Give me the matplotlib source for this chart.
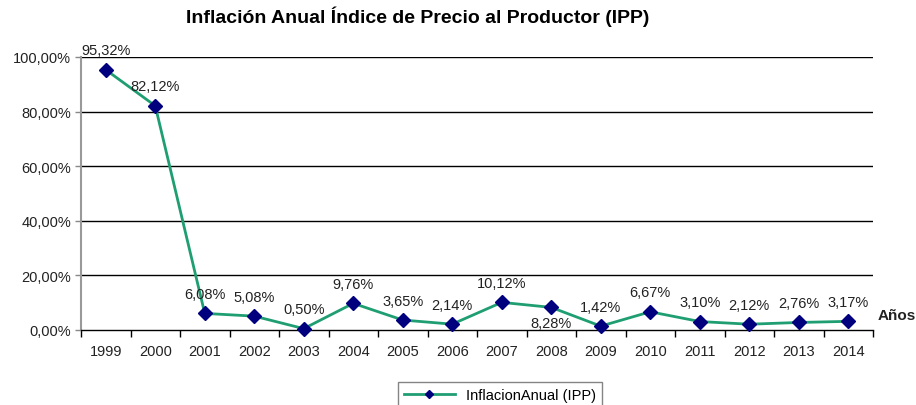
import matplotlib
matplotlib.use("Agg")
import matplotlib.pyplot as plt
from matplotlib.ticker import FixedLocator

years = ["1999", "2000", "2001", "2002", "2003", "2004", "2005", "2006",
         "2007", "2008", "2009", "2010", "2011", "2012", "2013", "2014"]
values = [95.32, 82.12, 6.08, 5.08, 0.50, 9.76, 3.65, 2.14,
          10.12, 8.28, 1.42, 6.67, 3.10, 2.12, 2.76, 3.17]
yticks = [0, 20, 40, 60, 80, 100]
series_name = "InflacionAnual (IPP)"
title = "Inflación Anual Índice de Precio al Productor (IPP)"

plt.rcParams['font.family'] = ['Liberation Sans', 'DejaVu Sans']

fig = plt.figure(figsize=(9.16, 4.06), dpi=100)
ax = fig.add_axes([81/916, 1-331/406, (873-81)/916, (331-58)/406])

x = list(range(len(years)))
line, = ax.plot(x, values, color='#1f9e72', linewidth=2.0, marker='D',
                markersize=7.5, markerfacecolor='#00007f', markeredgecolor='#00007f',
                label=series_name, zorder=3, clip_on=False)

for i, v in enumerate(values):
    lab = f"{v:.2f}".replace('.', ',') + "%"
    if years[i] == "2008":
        ax.annotate(lab, (i, v), xytext=(0, -6), textcoords='offset points',
                    ha='center', va='top', fontsize=10.5, color='#222222')
    else:
        ax.annotate(lab, (i, v), xytext=(0, 9), textcoords='offset points',
                    ha='center', va='bottom', fontsize=10.5, color='#222222')

ax.set_xlim(-0.5, len(years) - 0.5)
ax.set_ylim(0, 100)
ax.set_yticks(yticks)
ax.set_yticklabels([f"{t:.2f}".replace('.', ',') + "%" for t in yticks],
                   fontsize=10.5, color='#222222')
ax.set_xticks(x)
ax.set_xticklabels(years, fontsize=10.5, color='#222222')
ax.xaxis.set_minor_locator(FixedLocator([i - 0.5 for i in range(len(years) + 1)]))
ax.tick_params(axis='x', which='major', length=0, pad=10)
ax.tick_params(axis='x', which='minor', length=5, width=1, color='black', direction='out')
ax.tick_params(axis='y', length=4, width=1, color='#888888', pad=3)

for t in yticks[1:]:
    ax.axhline(t, color='black', linewidth=1, zorder=1)

ax.spines['top'].set_visible(False)
ax.spines['right'].set_visible(False)
ax.spines['left'].set_color('#999999')
ax.spines['left'].set_linewidth(1.5)
ax.spines['bottom'].set_color('black')
ax.spines['bottom'].set_linewidth(1)

fig.text(418/916, 1-17/406, title, ha='center', va='center', fontsize=14,
         fontweight='bold')
fig.text(878/916, 1-316/406, "Años", ha='left', va='center', fontsize=11,
         fontweight='bold', color='#222222')

leg = fig.legend(handles=[line], loc='upper center',
                 bbox_to_anchor=(500/916, 1-383/406), fontsize=10.5,
                 frameon=True, fancybox=False, edgecolor='#666666',
                 handlelength=3.5, borderpad=0.4, borderaxespad=0)
leg.get_frame().set_linewidth(1)
for h in leg.legend_handles:
    h.set_markersize(4)

fig.savefig("out.png", dpi=100)
